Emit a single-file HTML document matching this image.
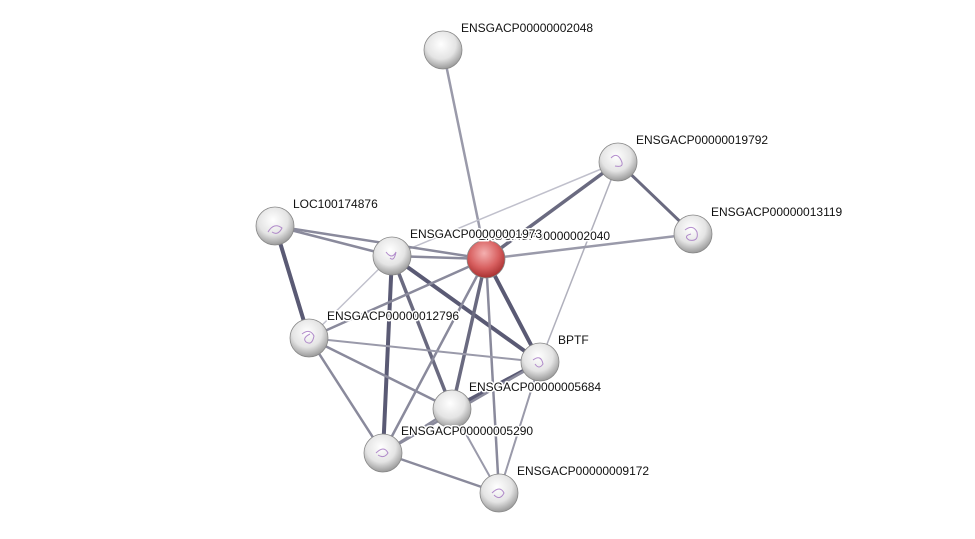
<!DOCTYPE html>
<html><head><meta charset="utf-8"><style>
html,body{margin:0;padding:0;background:#fff;}
svg{display:block;font-family:"Liberation Sans",sans-serif;}
.l{font-size:12px;fill:#111;paint-order:stroke;stroke:#fff;stroke-width:3px;stroke-linejoin:round;}
</style></head><body>
<svg width="975" height="539" viewBox="0 0 975 539" xmlns="http://www.w3.org/2000/svg">
<defs>
<radialGradient id="g" cx="45%" cy="35%" r="65%">
<stop offset="0" stop-color="#ffffff"/><stop offset="0.6" stop-color="#e4e4e4"/><stop offset="1" stop-color="#9a9a9a"/>
</radialGradient>
<radialGradient id="r" cx="45%" cy="35%" r="65%">
<stop offset="0" stop-color="#f4b0b0"/><stop offset="0.6" stop-color="#d86060"/><stop offset="1" stop-color="#a83030"/>
</radialGradient>
</defs>
<g stroke-linecap="round">
<line x1="443" y1="50" x2="486" y2="259" stroke="#9a9aaa" stroke-width="2.5"/>
<line x1="618" y1="162" x2="486" y2="259" stroke="#6a6a80" stroke-width="3.5"/>
<line x1="618" y1="162" x2="693" y2="234" stroke="#6a6a80" stroke-width="3"/>
<line x1="618" y1="162" x2="392" y2="256" stroke="#c0c0cc" stroke-width="1.5"/>
<line x1="618" y1="162" x2="540" y2="362" stroke="#b0b0bc" stroke-width="1.5"/>
<line x1="693" y1="234" x2="486" y2="259" stroke="#9a9aaa" stroke-width="2.5"/>
<line x1="275" y1="226" x2="392" y2="256" stroke="#8a8a9c" stroke-width="2.5"/>
<line x1="275" y1="226" x2="486" y2="259" stroke="#8a8a9c" stroke-width="2.5"/>
<line x1="275" y1="226" x2="309" y2="338" stroke="#5a5a74" stroke-width="4"/>
<line x1="392" y1="256" x2="486" y2="259" stroke="#8a8a9c" stroke-width="2.5"/>
<line x1="392" y1="256" x2="309" y2="338" stroke="#c0c0cc" stroke-width="1.5"/>
<line x1="392" y1="256" x2="540" y2="362" stroke="#5a5a74" stroke-width="4"/>
<line x1="392" y1="256" x2="452" y2="409" stroke="#6a6a80" stroke-width="3.5"/>
<line x1="392" y1="256" x2="383" y2="453" stroke="#5a5a74" stroke-width="4"/>
<line x1="486" y1="259" x2="309" y2="338" stroke="#8a8a9c" stroke-width="2.5"/>
<line x1="486" y1="259" x2="540" y2="362" stroke="#5a5a74" stroke-width="4"/>
<line x1="486" y1="259" x2="452" y2="409" stroke="#6a6a80" stroke-width="3.5"/>
<line x1="486" y1="259" x2="383" y2="453" stroke="#8a8a9c" stroke-width="2.5"/>
<line x1="486" y1="259" x2="499" y2="493" stroke="#8a8a9c" stroke-width="2.5"/>
<line x1="309" y1="338" x2="540" y2="362" stroke="#9a9aaa" stroke-width="2"/>
<line x1="309" y1="338" x2="452" y2="409" stroke="#8a8a9c" stroke-width="2.5"/>
<line x1="309" y1="338" x2="383" y2="453" stroke="#8a8a9c" stroke-width="2.5"/>
<line x1="540" y1="362" x2="452" y2="409" stroke="#5a5a74" stroke-width="4"/>
<line x1="540" y1="362" x2="499" y2="493" stroke="#9a9aaa" stroke-width="2"/>
<line x1="540" y1="362" x2="383" y2="453" stroke="#8a8a9c" stroke-width="2.5"/>
<line x1="452" y1="409" x2="499" y2="493" stroke="#9a9aaa" stroke-width="2"/>
<line x1="383" y1="453" x2="499" y2="493" stroke="#8a8a9c" stroke-width="2.5"/>
<line x1="452" y1="409" x2="383" y2="453" stroke="#8a8a9c" stroke-width="2.5"/>
</g>
<g stroke="#888" stroke-width="0.8">
<circle cx="443" cy="50" r="19" fill="url(#g)"/>
<circle cx="618" cy="162" r="19" fill="url(#g)"/>
<circle cx="693" cy="234" r="19" fill="url(#g)"/>
<circle cx="275" cy="226" r="19" fill="url(#g)"/>
<circle cx="392" cy="256" r="19" fill="url(#g)"/>
<circle cx="486" cy="259" r="19" fill="url(#r)"/>
<circle cx="309" cy="338" r="19" fill="url(#g)"/>
<circle cx="540" cy="362" r="19" fill="url(#g)"/>
<circle cx="452" cy="409" r="19" fill="url(#g)"/>
<circle cx="383" cy="453" r="19" fill="url(#g)"/>
<circle cx="499" cy="493" r="19" fill="url(#g)"/>
</g>
<g fill="none" stroke="#a070c0" stroke-width="1" opacity="0.8">
<path d="M611 158 q6 -6 10 2 q4 8 -6 6"/>
<path d="M685 230 q8 -6 12 2 q2 10 -8 8 q-6 -4 2 -6"/>
<path d="M268 232 q6 -10 14 -4 q-4 8 -10 4"/>
<path d="M386 252 q6 8 10 0 q-2 10 -6 6"/>
<path d="M302 334 q8 -6 12 2 q-2 10 -8 6 q-4 -4 4 -8"/>
<path d="M533 360 q8 -6 10 4 q-4 6 -8 0"/>
<path d="M376 453 q8 -8 12 0 q-4 6 -10 2"/>
<path d="M492 493 q8 -8 12 0 q-4 8 -10 2"/>
</g>
<text class="l" x="461" y="32">ENSGACP00000002048</text>
<text class="l" x="636" y="144">ENSGACP00000019792</text>
<text class="l" x="711" y="216">ENSGACP00000013119</text>
<text class="l" x="293" y="208">LOC100174876</text>
<text class="l" x="478" y="240">ENSGACP00000002040</text>
<text class="l" x="410" y="238">ENSGACP00000001973</text>
<text class="l" x="327" y="320">ENSGACP00000012796</text>
<text class="l" x="558" y="344">BPTF</text>
<text class="l" x="469" y="391">ENSGACP00000005684</text>
<text class="l" x="401" y="435">ENSGACP00000005290</text>
<text class="l" x="517" y="475">ENSGACP00000009172</text>
</svg>
</body></html>
